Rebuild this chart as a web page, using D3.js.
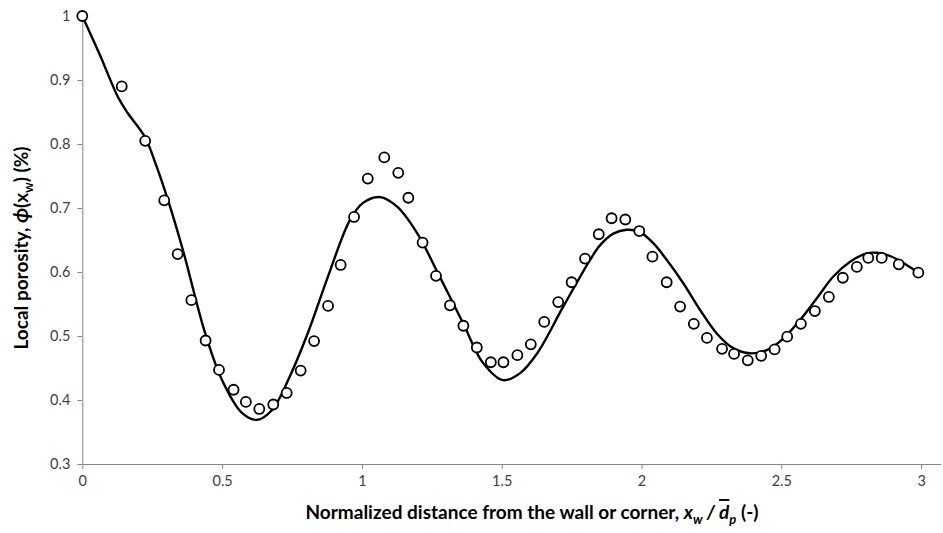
<!DOCTYPE html>
<html><head><meta charset="utf-8">
<script src="https://cdn.jsdelivr.net/npm/d3@7"></script>
<style>
html,body{margin:0;padding:0;background:#fff;}
svg{display:block;}
text{font-family:Lato,"Open Sans",sans-serif;}
</style></head>
<body>
<svg id="chart" width="943" height="533"></svg>
<script>
// Measured points (circles)
const pointX = [0.000,0.141,0.225,0.293,0.341,0.390,0.441,0.489,0.541,0.585,0.633,0.683,0.731,0.781,0.829,0.879,0.924,0.972,1.021,1.080,1.130,1.166,1.217,1.265,1.315,1.363,1.411,1.461,1.506,1.556,1.604,1.652,1.702,1.750,1.798,1.847,1.893,1.942,1.992,2.039,2.090,2.138,2.187,2.234,2.288,2.331,2.380,2.428,2.476,2.521,2.570,2.620,2.670,2.720,2.770,2.811,2.859,2.920,2.990];
const pointY = [1.000,0.890,0.805,0.712,0.628,0.556,0.493,0.447,0.416,0.397,0.386,0.393,0.411,0.446,0.492,0.547,0.611,0.686,0.746,0.779,0.755,0.716,0.646,0.594,0.548,0.516,0.482,0.459,0.459,0.470,0.487,0.522,0.553,0.584,0.621,0.659,0.684,0.682,0.664,0.624,0.584,0.546,0.519,0.497,0.480,0.472,0.462,0.469,0.479,0.499,0.519,0.539,0.561,0.591,0.608,0.622,0.622,0.612,0.599];
// Model curve
const curveX = [0,0.063,0.128,0.163,0.224,0.264,0.306,0.360,0.439,0.500,0.571,0.625,0.678,0.736,0.807,0.878,0.957,1.004,1.065,1.126,1.197,1.279,1.362,1.433,1.505,1.566,1.627,1.719,1.816,1.852,1.899,1.947,1.992,2.042,2.090,2.150,2.209,2.269,2.328,2.388,2.448,2.507,2.567,2.627,2.686,2.746,2.805,2.841,2.889,2.948,2.990];
const curveY = [1.0,0.939,0.873,0.848,0.811,0.767,0.713,0.634,0.505,0.431,0.380,0.369,0.384,0.431,0.505,0.592,0.681,0.708,0.717,0.702,0.661,0.592,0.520,0.458,0.431,0.442,0.473,0.545,0.619,0.642,0.660,0.666,0.663,0.645,0.619,0.582,0.541,0.504,0.481,0.473,0.478,0.496,0.525,0.559,0.593,0.616,0.629,0.630,0.625,0.611,0.599];
const xTicks = [0,0.5,1,1.5,2,2.5,3];
const xTickLabels = ["0","0.5","1","1.5","2","2.5","3"];
const yTicks = [0.3,0.4,0.5,0.6,0.7,0.8,0.9,1];
const yTickLabels = ["0.3","0.4","0.5","0.6","0.7","0.8","0.9","1"];

const svg = d3.select("#chart");
const x = d3.scaleLinear().domain([0,3.07]).range([82.3,940.7]);
const y = d3.scaleLinear().domain([0.3,1]).range([464,16]);
const axisColor = "#868686", labelColor = "#404040";

const gx = svg.append("g").attr("transform",`translate(0,${y(0.3)})`)
  .call(d3.axisBottom(x).tickValues(xTicks).tickFormat((d,i)=>xTickLabels[i]).tickSize(5).tickSizeOuter(0).tickPadding(7));
const gy = svg.append("g").attr("transform",`translate(${x(0)},0)`)
  .call(d3.axisLeft(y).tickValues(yTicks).tickFormat((d,i)=>yTickLabels[i]).tickSize(5).tickSizeOuter(0).tickPadding(7));
[gx,gy].forEach(g=>{
  g.selectAll("path,line").attr("stroke",axisColor).attr("stroke-width",1);
  g.selectAll("text").attr("fill",labelColor).style("font-size","14.5px").style("font-family","Lato,sans-serif");
});

// curve
const line = d3.line().x(d=>x(d[0])).y(d=>y(d[1])).curve(d3.curveCatmullRom.alpha(0.5));
svg.append("path").datum(curveX.map((v,i)=>[v,curveY[i]]))
  .attr("d",line).attr("fill","none").attr("stroke","#000").attr("stroke-width",2.4);

// points
svg.append("g").selectAll("circle").data(pointX.map((v,i)=>[v,pointY[i]])).join("circle")
  .attr("cx",d=>x(d[0])).attr("cy",d=>y(d[1])).attr("r",5)
  .attr("fill","#fff").attr("stroke","#000").attr("stroke-width",1.8);

// x title
const xt = svg.append("text").attr("x",532).attr("y",519).attr("text-anchor","middle")
  .style("font-size","19px").style("font-weight","bold").attr("fill","#000");
xt.append("tspan").text("Normalized distance from the wall or corner, ");
xt.append("tspan").text("x").style("font-style","italic");
xt.append("tspan").text("w").style("font-style","italic").style("font-size","13px").attr("dy",5);
xt.append("tspan").text(" / ").style("font-style","italic").attr("dy",-5);
xt.append("tspan").text("d").style("font-style","italic").style("text-decoration","overline");
xt.append("tspan").text("p").style("font-style","italic").style("font-size","13px").attr("dy",5);
xt.append("tspan").text(" (-)").attr("dy",-5);

// y title
const yt = svg.append("text").attr("transform","translate(28,248) rotate(-90)").attr("text-anchor","middle")
  .style("font-size","19px").style("font-weight","bold").attr("fill","#000");
yt.append("tspan").text("Local porosity, ");
yt.append("tspan").text("\u03D5").style("font-style","italic").style("font-size","21px");
yt.append("tspan").text("(x");
yt.append("tspan").text("w").style("font-size","13px").attr("dy",5);
yt.append("tspan").text(") (%)").attr("dy",-5);
</script>
</body></html>
